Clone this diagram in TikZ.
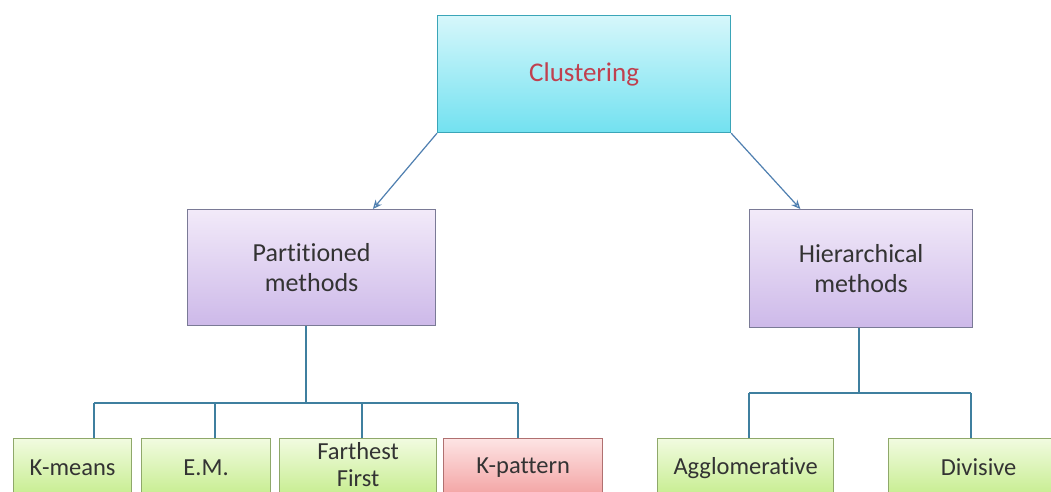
\documentclass[tikz,border=0pt]{standalone}
\usepackage{fontspec}
\setmainfont[Ligatures=NoCommon]{Carlito}
\usetikzlibrary{arrows.meta,calc}
\definecolor{linkblue}{HTML}{3F7F9F}
\definecolor{arrowblue}{HTML}{4F7FB0}
\definecolor{txtgray}{HTML}{333333}
\definecolor{rootred}{HTML}{C0404F}
\definecolor{rootedge}{HTML}{3AA5B8}
\definecolor{roottop}{HTML}{D6F7FB}
\definecolor{rootbot}{HTML}{72E1F0}
\definecolor{midedge}{HTML}{7A7A96}
\definecolor{midtop}{HTML}{F2EAF9}
\definecolor{midbot}{HTML}{CDB9E9}
\definecolor{leafedge}{HTML}{8FA86A}
\definecolor{leaftop}{HTML}{F1FBE0}
\definecolor{leafbot}{HTML}{C6ED8E}
\definecolor{hotedge}{HTML}{B07070}
\definecolor{hottop}{HTML}{FDE4E4}
\definecolor{hotbot}{HTML}{F3A2A2}
\tikzset{
  base/.style={draw, anchor=north west, align=center, text=txtgray, inner sep=2pt, line width=1.2pt},
  rootbox/.style={base, draw=rootedge, top color=roottop, bottom color=rootbot,
    text=rootred, font=\fontsize{27}{30}\selectfont},
  midbox/.style={base, draw=midedge, top color=midtop, bottom color=midbot,
    font=\fontsize{26}{30}\selectfont},
  leafbox/.style={base, draw=leafedge, top color=leaftop, bottom color=leafbot,
    minimum height=58pt, font=\fontsize{24.5}{27}\selectfont},
  hotbox/.style={leafbox, draw=hotedge, top color=hottop, bottom color=hotbot},
  wire/.style={draw=linkblue, line width=1.2pt},
  arr/.style={draw=arrowblue, line width=1.2pt, -{Stealth[length=9pt,width=8pt,open]}},
}
\begin{document}
\begin{tikzpicture}[x=1pt,y=-1pt]
\useasboundingbox (0,0) rectangle (1051,492);
\clip (0,0) rectangle (1051,492);
\fill[white] (0,0) rectangle (1051,492);

% root and second level
\node[rootbox, minimum width=293pt, minimum height=117pt] (cl) at (437,15) {Clustering};
\node[midbox, minimum width=248pt, minimum height=116pt] (pm) at (187,209) {Partitioned\\methods};
\node[midbox, minimum width=223pt, minimum height=118pt] (hm) at (749,209) {Hierarchical\\methods};

% leaves
\node[leafbox, minimum width=118pt] (km) at (13,438) {K-means};
\node[leafbox, minimum width=129pt] (em) at (141,438) {E.M.};
\node[leafbox, minimum width=157pt] (ff) at (279,438)
  {\raisebox{3pt}{\begin{tabular}{@{}c@{}}Farthest\\First\end{tabular}}};
\node[hotbox,  minimum width=159pt] (kp) at (443,438) {K-pattern};
\node[leafbox, minimum width=176pt] (ag) at (657,438) {Agglomerative};
\node[leafbox, minimum width=180pt] (dv) at (888,438) {Divisive};

% arrows from the root
\draw[arr] (cl.south west) -- ($(pm.north west)!0.746!(pm.north east)$);
\draw[arr] (cl.south east) -- ($(hm.north west)!0.229!(hm.north east)$);

% bus under the partitioned methods
\coordinate (pbus) at (306,403);
\coordinate (p1) at (94,403);
\coordinate (p2) at (215,403);
\coordinate (p3) at (362,403);
\coordinate (p4) at (518,403);
\draw[wire] (pm.south -| pbus) -- (pbus);
\draw[wire] (p1) -- (p4);
\draw[wire] (p1) -- (p1 |- km.north);
\draw[wire] (p2) -- (p2 |- em.north);
\draw[wire] (p3) -- (p3 |- ff.north);
\draw[wire] (p4) -- (p4 |- kp.north);

% bus under the hierarchical methods
\coordinate (hbus) at (859,393);
\coordinate (h1) at (749,393);
\coordinate (h2) at (971,393);
\draw[wire] (hm.south -| hbus) -- (hbus);
\draw[wire] (h1) -- (h2);
\draw[wire] (h1) -- (h1 |- ag.north);
\draw[wire] (h2) -- (h2 |- dv.north);
\end{tikzpicture}
\end{document}
